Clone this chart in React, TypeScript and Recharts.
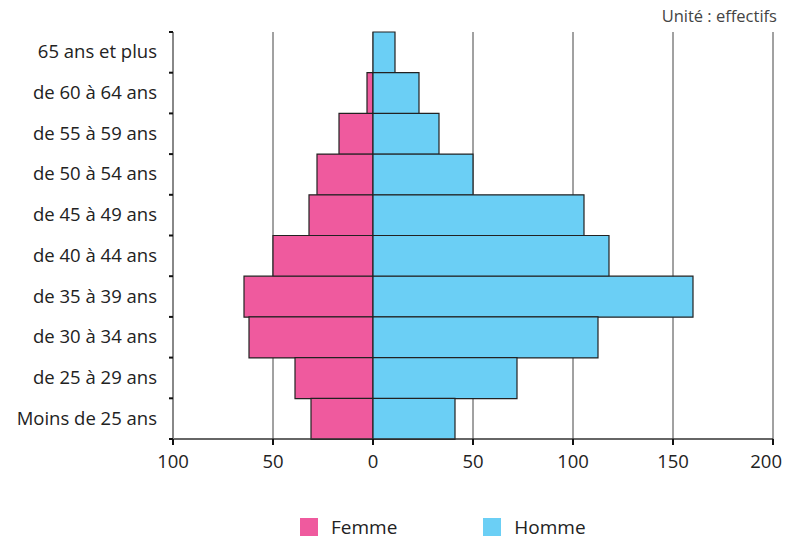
import React from "react";
import {
  BarChart,
  Bar,
  XAxis,
  YAxis,
  CartesianGrid,
} from "recharts";

const AGES = [
  "65 ans et plus",
  "de 60 à 64 ans",
  "de 55 à 59 ans",
  "de 50 à 54 ans",
  "de 45 à 49 ans",
  "de 40 à 44 ans",
  "de 35 à 39 ans",
  "de 30 à 34 ans",
  "de 25 à 29 ans",
  "Moins de 25 ans",
];
const FEMMES = [0, 3, 17, 28, 32, 50, 64.5, 62, 39, 31];
const HOMMES = [11, 23, 33, 50, 105.5, 118, 160, 112.5, 72, 41];
const X_TICKS = [-100, -50, 0, 50, 100, 150, 200];

const PINK = "#ef5a9e";
const BLUE = "#6bcff5";
const FONT = "'Open Sans', 'DejaVu Sans', sans-serif";
const TEXT = "#222";

const data = AGES.map((age, i) => ({
  age,
  femme: -FEMMES[i],
  homme: HOMMES[i],
}));

// category label + tick marks on the band boundaries
function AgeTick(props: any) {
  const { x, y, payload, index, visibleTicksCount } = props;
  const half = payload.offset ?? 0;
  const ax = x + 16;
  return (
    <g>
      <line x1={ax - 4} x2={ax} y1={y - half} y2={y - half} stroke="#111" strokeWidth={2} />
      {index === visibleTicksCount - 1 && (
        <line x1={ax - 4} x2={ax} y1={y + half} y2={y + half} stroke="#111" strokeWidth={2} />
      )}
      <text x={x} y={y} dy={6} textAnchor="end" fill={TEXT} fontSize={18.5} fontFamily={FONT}>
        {payload.value}
      </text>
    </g>
  );
}

// last label is pulled in so it stays inside the frame
function ValueTick(props: any) {
  const { x, y, payload, index, visibleTicksCount } = props;
  const last = index === visibleTicksCount - 1;
  return (
    <text
      x={last ? x + 9 : x}
      y={y}
      dy={14}
      textAnchor={last ? "end" : "middle"}
      fill={TEXT}
      fontSize={18.5}
      fontFamily={FONT}
    >
      {Math.abs(payload.value)}
    </text>
  );
}

function PyramidLegend() {
  const items = [
    { label: "Femme", color: PINK },
    { label: "Homme", color: BLUE },
  ];
  return (
    <div
      style={{
        position: "absolute",
        top: 516,
        left: 300,
        display: "flex",
        fontFamily: FONT,
        fontSize: 19,
        lineHeight: "22px",
        color: TEXT,
        whiteSpace: "nowrap",
      }}
    >
      {items.map((it, i) => (
        <div key={it.label} style={{ display: "flex", alignItems: "center", marginRight: i === 0 ? 86 : 0 }}>
          <span style={{ display: "inline-block", width: 18, height: 18, background: it.color, marginRight: 13 }} />
          <span>{it.label}</span>
        </div>
      ))}
    </div>
  );
}

export default function App() {
  return (
    <div style={{ position: "absolute", left: 0, top: 0, width: 787, height: 539, background: "#fff" }}>
      <div
        style={{
          position: "absolute",
          right: 10,
          top: 4,
          fontFamily: FONT,
          fontSize: 16.5,
          color: "#444",
        }}
      >
        Unité : effectifs
      </div>
      <BarChart
        width={787}
        height={539}
        data={data}
        layout="vertical"
        stackOffset="sign"
        barCategoryGap={0}
        margin={{ top: 32, right: 14, left: 0, bottom: 60 }}
      >
        <CartesianGrid horizontal={false} stroke="#444" strokeWidth={1} />
        <XAxis
          type="number"
          domain={[-100, 200]}
          ticks={X_TICKS}
          axisLine={{ stroke: "#333", strokeWidth: 1.5 }}
          tickLine={{ stroke: "#111", strokeWidth: 2 }}
          tickSize={6}
          tickMargin={9}
          tick={<ValueTick />}
          interval={0}
          height={40}
          allowDataOverflow
        />
        <YAxis
          type="category"
          dataKey="age"
          width={173}
          axisLine={{ stroke: "#888", strokeWidth: 2 }}
          tickLine={false}
          tickSize={4}
          tickMargin={12}
          tick={<AgeTick />}
          interval={0}
        />
        <Bar dataKey="femme" name="Femme" stackId="a" fill={PINK} stroke="#222" strokeWidth={1.2} isAnimationActive={false} />
        <Bar dataKey="homme" name="Homme" stackId="a" fill={BLUE} stroke="#222" strokeWidth={1.2} isAnimationActive={false} />
      </BarChart>
      <PyramidLegend />
    </div>
  );
}
